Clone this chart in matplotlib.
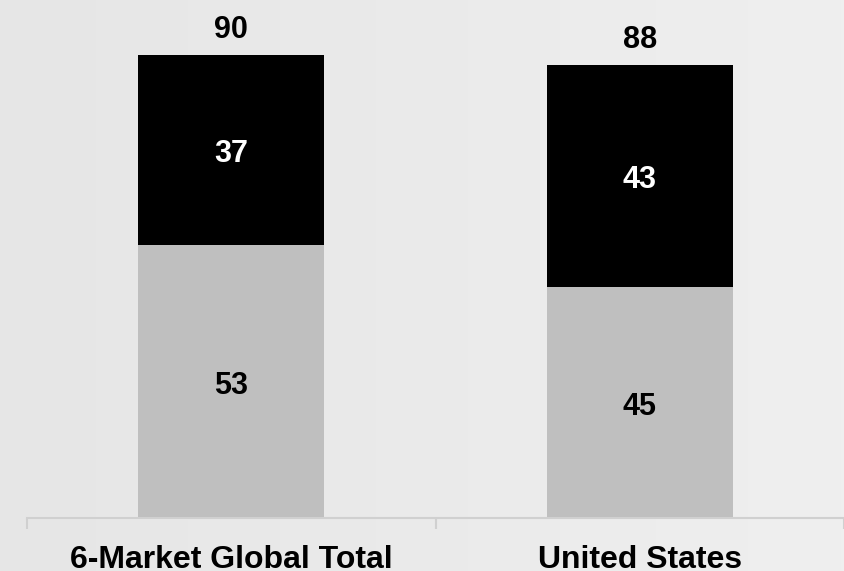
import matplotlib
matplotlib.use("Agg")
import matplotlib.pyplot as plt
import numpy as np

plt.rcParams["font.family"] = ["Liberation Sans", "DejaVu Sans"]

categories = ["6-Market Global Total", "United States"]
bottom_vals = [53, 45]
top_vals = [37, 43]
totals = [90, 88]

BOTTOM_COLOR = "#bfbfbf"
TOP_COLOR = "#000000"
AXIS_COLOR = "#d0d0d0"

fig = plt.figure(figsize=(8.44, 5.71), dpi=100)

# soft light-gray backdrop, slightly brighter to the right
bg = fig.add_axes([0, 0, 1, 1], zorder=-1)
grad = np.linspace(0, 1, 256)[None, :]
bg.imshow(grad, cmap=matplotlib.colors.LinearSegmentedColormap.from_list(
    "bg", ["#e6e6e6", "#efefef"]), aspect="auto", extent=[0, 1, 0, 1])
bg.set_axis_off()

ax = fig.add_axes([27 / 844, 52.7 / 571, 1 - 27 / 844, 518.3 / 571])
ax.patch.set_alpha(0)

x = np.arange(len(categories))
width = 0.455
ax.bar(x, bottom_vals, width, color=BOTTOM_COLOR, zorder=2)
ax.bar(x, top_vals, width, bottom=bottom_vals, color=TOP_COLOR, zorder=2)

label_kw = dict(textcoords="offset points", ha="center", va="center",
                fontsize=22, fontweight="bold")
for i in range(len(categories)):
    ax.annotate(str(bottom_vals[i]), (x[i], bottom_vals[i] / 2), xytext=(0, -3),
                color="black", **label_kw)
    ax.annotate(str(top_vals[i]), (x[i], bottom_vals[i] + top_vals[i] / 2),
                xytext=(0, -3), color="white", **label_kw)
    ax.annotate(str(totals[i]), (x[i], totals[i]), xytext=(0, 18),
                color="black", **label_kw)

ax.set_xlim(-0.5, -0.5 + 817 / 411)
ax.set_ylim(0, 518.3 / 5.15)

for side in ["left", "right", "top"]:
    ax.spines[side].set_visible(False)
ax.spines["bottom"].set_color(AXIS_COLOR)
ax.spines["bottom"].set_linewidth(1.5)
ax.set_yticks([])

# category boundaries carry the tick marks, labels sit at bar centres
ax.set_xticks([-0.5, 0.5, 1.5])
ax.set_xticklabels([])
ax.tick_params(axis="x", length=8, width=1.5, color=AXIS_COLOR, direction="out")
ax.set_xticks(x, minor=True)
ax.set_xticklabels(categories, minor=True, fontsize=23, fontweight="bold")
ax.tick_params(axis="x", which="minor", length=0, pad=19)

fig.savefig("out.png", dpi=100)
